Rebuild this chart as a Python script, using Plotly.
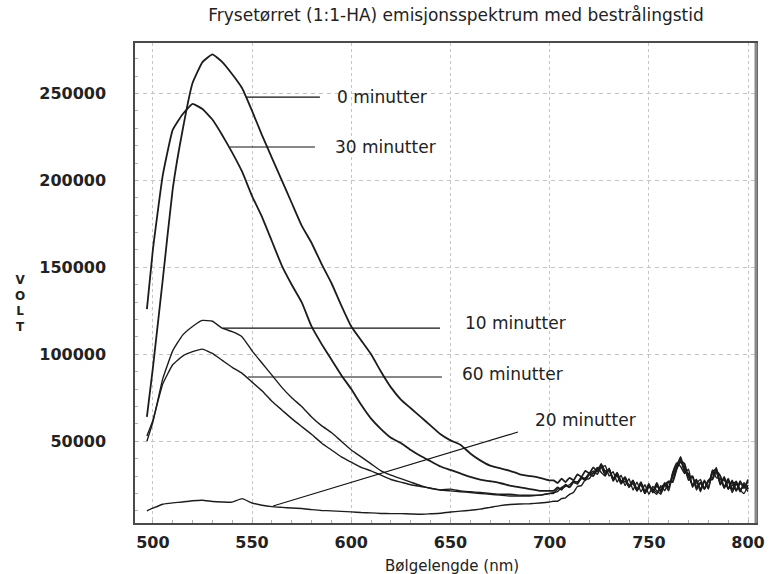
import plotly.graph_objects as go

# Wavelength grid (nm): 5 nm steps over the emission band, 2 nm over the noisy tail
wavelength = [
    497, 500, 505, 510, 515, 520, 525, 530, 535, 540, 545, 550, 555, 560,
    565, 570, 575, 580, 585, 590, 595, 600, 605, 610, 615, 620, 625, 630,
    635, 640, 645, 650, 655, 660, 665, 670, 675, 680, 685, 690, 695, 700,
    702, 704, 706, 708, 710, 712, 714, 716, 718, 720,
    722, 724, 726, 728, 730, 732, 734, 736, 738, 740,
    742, 744, 746, 748, 750, 752, 754, 756, 758, 760,
    762, 764, 766, 768, 770, 772, 774, 776, 778, 780,
    782, 784, 786, 788, 790, 792, 794, 796, 798, 800,
]

# Emission intensity, in thousands of volts, per irradiation time
volt_0min_k = [
    64, 92, 143, 195, 229, 256, 268, 272.5, 268, 261, 253, 240, 226, 213,
    200, 187, 174, 164, 152, 141, 128, 116, 108, 100, 90, 81, 74, 69,
    64, 59, 54, 50.5, 48, 43, 39, 36, 34.5, 33, 31, 30, 29, 27.5,
    27.5, 26, 28.5, 26.5, 29, 27.5, 31, 29.5, 33, 31.5,
    35, 32.5, 37, 32, 33.5, 28, 31.5, 26.5, 29.5, 24,
    27.5, 22, 26.5, 21, 25.5, 20.5, 24.5, 21.5, 26, 23.5,
    30, 35, 41, 33, 31, 24.5, 28, 22, 27.5, 23,
    32.5, 34, 25, 29.5, 22.5, 27.5, 21.5, 27, 23, 28,
]
volt_30min_k = [
    126, 160, 203, 229, 238, 244, 241, 235, 226, 216, 205, 191, 179, 165,
    151, 140, 130, 116, 106, 97, 88, 80, 71, 63, 57, 52, 49, 45,
    41.5, 38.5, 35.5, 33.5, 31.5, 29.5, 28, 27, 26, 24.5, 23.5, 22.5, 21.5, 21.5,
    21.5, 23.5, 22, 25, 23.5, 26.5, 25.5, 29, 27.5, 31,
    30, 34, 35.5, 30.5, 34, 28, 31, 25.5, 29, 23.5,
    27, 21.5, 25.5, 20, 24.5, 21, 26, 20.5, 25, 27,
    26.5, 34, 38.5, 37, 29, 30, 23.5, 26, 22.5, 27.5,
    28, 33, 30, 23.5, 28.5, 22, 26.5, 21, 26, 22.5,
]
volt_10min_k = [
    50, 61, 86, 102, 111, 116, 119.5, 119, 115, 113, 110, 102, 95, 88,
    81, 75, 70, 64, 59, 55, 50, 45, 41, 37, 33, 30.5, 28.5, 26.5,
    24.5, 23, 22, 22.5, 21.5, 21, 20.5, 20, 19.5, 19.5, 19, 19, 19, 20,
    20, 22.5, 23, 24, 25, 27, 26.5, 28.5, 29, 31,
    33, 31, 35, 36, 30, 32.5, 26.5, 30.5, 24.5, 28.5,
    22, 26.5, 21, 25, 19.5, 24, 21.5, 19.5, 25, 23,
    32, 37.5, 35.5, 31.5, 34, 23.5, 27.5, 21, 27, 22.5,
    33.5, 29, 28.5, 23, 27, 20.5, 25.5, 22, 20, 25,
]
volt_60min_k = [
    53, 62, 83, 94, 99, 101.5, 103, 100.5, 96.5, 92.5, 89, 84, 79, 73,
    68, 63, 58.5, 54, 49, 45, 41, 38, 35, 33, 30.5, 28, 26.5, 25,
    24, 23, 22, 21.5, 21, 20.5, 20, 19.5, 19, 18.5, 18.5, 18.5, 19, 20,
    20.5, 21, 23.5, 24.5, 23.5, 27, 26.5, 29.5, 28.5, 32,
    31.5, 35, 32, 30, 34.5, 27, 30.5, 26, 27, 24.5,
    25.5, 21.5, 26, 20, 24.5, 21.5, 19.5, 24.5, 21.5, 26.5,
    27, 34.5, 38, 35, 27.5, 29.5, 22, 26.5, 23, 27.5,
    28.5, 35, 25.5, 28.5, 22.5, 26.5, 21.5, 25.5, 24.5, 21,
]
volt_20min_k = [
    10, 11.5, 13.8, 14.6, 15.1, 15.8, 16.1, 15.4, 15.1, 15, 17, 14.5, 13.2, 12.4,
    12, 11.6, 11.3, 10.7, 10.2, 10, 9.7, 9.4, 9, 8.8, 8.5, 8.4, 8.4, 8.2,
    8, 8.3, 8.6, 9.3, 9.8, 10.3, 11, 12, 13, 13.6, 13.9, 14.1, 14.5, 15.1,
    15.5, 15.5, 17, 17.5, 19.5, 20.5, 24, 24.5, 28, 28.5,
    32, 33, 36, 33, 33.5, 28.5, 32, 27, 29, 24,
    26.5, 22.5, 25.5, 21, 23.5, 22.5, 20.5, 23.5, 25, 21.5,
    31.5, 36.5, 39.5, 32, 31.5, 24.5, 26, 28, 22.5, 27,
    31, 32, 26, 28, 23, 24.5, 27, 22.5, 24, 26.5,
]

series_names = ["0 minutter", "30 minutter", "10 minutter", "60 minutter", "20 minutter"]
series_values = [volt_0min_k, volt_30min_k, volt_10min_k, volt_60min_k, volt_20min_k]
series_widths = [1.8, 1.8, 1.4, 1.4, 1.4]

# Callout labels: text anchor (nm, V) and leader line start/end (nm, V)
label_pos = [(591.8, 247900), (590.8, 219200), (656.3, 118000), (654.8, 88700), (691.6, 62200)]
leader_start = [(547.4, 247900), (538.9, 219200), (535.4, 115100), (548.0, 86950), (560.6, 12800)]
leader_end = [(584.2, 247900), (581.7, 219200), (644.7, 115100), (645.7, 86950), (684.0, 55300)]

x_ticks = [500, 550, 600, 650, 700, 750, 800]
y_ticks = [50000, 100000, 150000, 200000, 250000]
y_tick_text = ["50000", "100000", "150000", "200000", "250000"]

TEXT = "#222222"
FONT = "DejaVu Sans"

fig = go.Figure()
for name, vals, w in zip(series_names, series_values, series_widths):
    fig.add_trace(go.Scatter(
        x=wavelength,
        y=[v * 1000 for v in vals],
        mode="lines",
        name=name,
        line=dict(color="#1c1c1c", width=w, shape="spline", smoothing=0.35),
        showlegend=False,
    ))

for (x0, y0), (x1, y1) in zip(leader_start, leader_end):
    fig.add_shape(type="line", xref="x", yref="y", x0=x0, y0=y0, x1=x1, y1=y1,
                  line=dict(color="#111111", width=1.2))

for name, (lx, ly) in zip(series_names, label_pos):
    fig.add_annotation(x=lx, y=ly, xref="x", yref="y", text=name, showarrow=False,
                       xanchor="left", yanchor="middle",
                       font=dict(family=FONT, size=17, color=TEXT))

# Heavier grey right-hand frame edge
fig.add_shape(type="line", xref="paper", yref="paper", x0=1, x1=1, y0=0, y1=1,
              line=dict(color="#8a8a8a", width=3))

# Y caption written as upright stacked letters
fig.add_annotation(x=-0.185, y=0.458, xref="paper", yref="paper",
                   text="V<br>O<br>L<br>T", showarrow=False,
                   xanchor="center", yanchor="middle",
                   font=dict(family=FONT, size=12, color=TEXT, weight="bold"))

# X caption below the tick labels
fig.add_annotation(x=0.5105, y=-0.0896, xref="paper", yref="paper",
                   text="Bølgelengde (nm)", showarrow=False,
                   xanchor="center", yanchor="middle",
                   font=dict(family=FONT, size=15, color=TEXT))

fig.update_layout(
    width=776, height=574,
    margin=dict(l=135, r=20, t=43, b=51, autoexpand=False),
    paper_bgcolor="white", plot_bgcolor="white",
    title=dict(text="Frysetørret (1:1-HA) emisjonsspektrum med bestrålingstid",
               x=456 / 776, xanchor="center", xref="container",
               y=1 - 15 / 574, yref="container", yanchor="middle",
               font=dict(family=FONT, size=17, color=TEXT)),
)

fig.update_xaxes(
    range=[491, 804], tickvals=x_ticks, automargin=False,
    showgrid=True, gridcolor="#c4c4c4", gridwidth=1, griddash="dot",
    showline=True, mirror=True, linecolor="#4a4a4a", linewidth=1.5,
    ticks="", zeroline=False, ticklabelstandoff=4,
    tickfont=dict(family=FONT, size=16, color=TEXT, weight="bold"),
    minor=dict(ticks="inside", ticklen=3, tickcolor="#b0b0b0", dtick=10, showgrid=False),
)
fig.update_yaxes(
    range=[3000, 279000], tickvals=y_ticks, ticktext=y_tick_text, automargin=False,
    showgrid=True, gridcolor="#c4c4c4", gridwidth=1, griddash="4px,4px",
    showline=True, mirror=True, linecolor="#4a4a4a", linewidth=1.5,
    ticks="", zeroline=False, ticklabelstandoff=24,
    tickfont=dict(family=FONT, size=16, color=TEXT, weight="bold"),
    minor=dict(ticks="inside", ticklen=3, tickcolor="#b0b0b0", dtick=10000, showgrid=False),
)

fig.write_html("out.html")
